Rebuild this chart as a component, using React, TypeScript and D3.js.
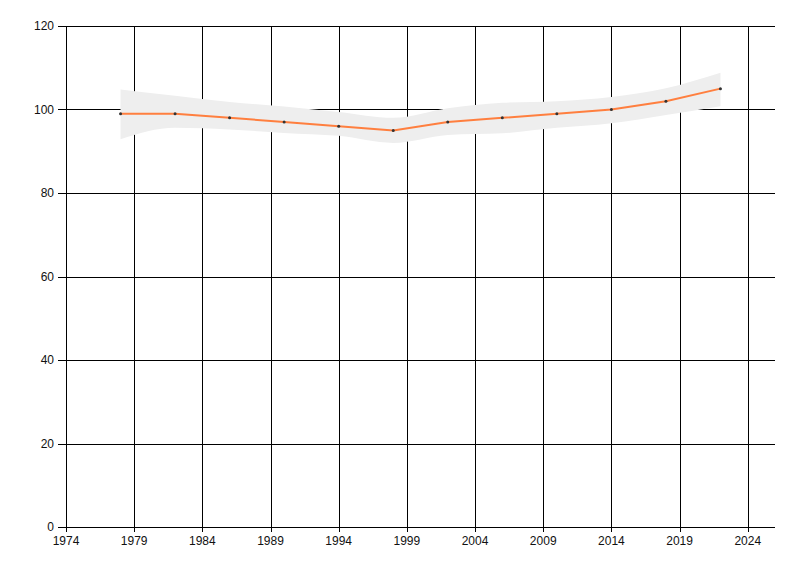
import React from "react";
import * as d3 from "d3";

const years = [1978, 1982, 1986, 1990, 1994, 1998, 2002, 2006, 2010, 2014, 2018, 2022];
const values = [99, 99, 98, 97, 96, 95, 97, 98, 99, 100, 102, 105];
const upper = [104.8, 103.3, 101.8, 100.7, 99.4, 98.0, 100.3, 101.6, 102.0, 103.0, 105.1, 108.8];
const lower = [92.9, 95.6, 95.2, 94.4, 93.7, 92.0, 93.9, 94.3, 95.6, 96.7, 98.7, 100.8];
const xTicks = [1974, 1979, 1984, 1989, 1994, 1999, 2004, 2009, 2014, 2019, 2024];
const yTicks = [0, 20, 40, 60, 80, 100, 120];

export default function App() {
  const W = 800, H = 576;
  const x = d3.scaleLinear().domain([1974, 2026]).range([66, 775]);
  const y = d3.scaleLinear().domain([0, 120]).range([527, 26]);
  const idx = years.map((_, i) => i);
  const area = d3
    .area<number>()
    .x((i) => x(years[i]))
    .y0((i) => y(lower[i]))
    .y1((i) => y(upper[i]))
    .curve(d3.curveMonotoneX);
  const line = d3
    .line<number>()
    .x((i) => x(years[i]))
    .y((i) => y(values[i]))
    .curve(d3.curveLinear);
  const font = "'Liberation Sans', Arial, sans-serif";
  return (
    <svg width={W} height={H} style={{ position: "absolute", left: 0, top: 0, background: "#fff" }}>
      {yTicks.map((t) => (
        <g key={"y" + t}>
          <line x1={58} x2={775} y1={Math.round(y(t)) + 0.5} y2={Math.round(y(t)) + 0.5} stroke="#000" strokeWidth={1} />
          <text x={54} y={y(t)} dy="0.35em" textAnchor="end" fontSize={12} fontFamily={font} fill="#111">
            {t}
          </text>
        </g>
      ))}
      {xTicks.map((t) => (
        <g key={"x" + t}>
          <line x1={Math.round(x(t)) + 0.5} x2={Math.round(x(t)) + 0.5} y1={26} y2={532} stroke="#000" strokeWidth={1} />
          <text x={x(t)} y={545} textAnchor="middle" fontSize={12} fontFamily={font} fill="#111">
            {t}
          </text>
        </g>
      ))}
      <path d={area(idx) || ""} fill="#eeeeee" stroke="none" />
      <path d={line(idx) || ""} fill="none" stroke="#ff7f3f" strokeWidth={2} />
      {idx.map((i) => (
        <circle key={"p" + i} cx={x(years[i])} cy={y(values[i])} r={1.5} fill="#333" />
      ))}
    </svg>
  );
}
